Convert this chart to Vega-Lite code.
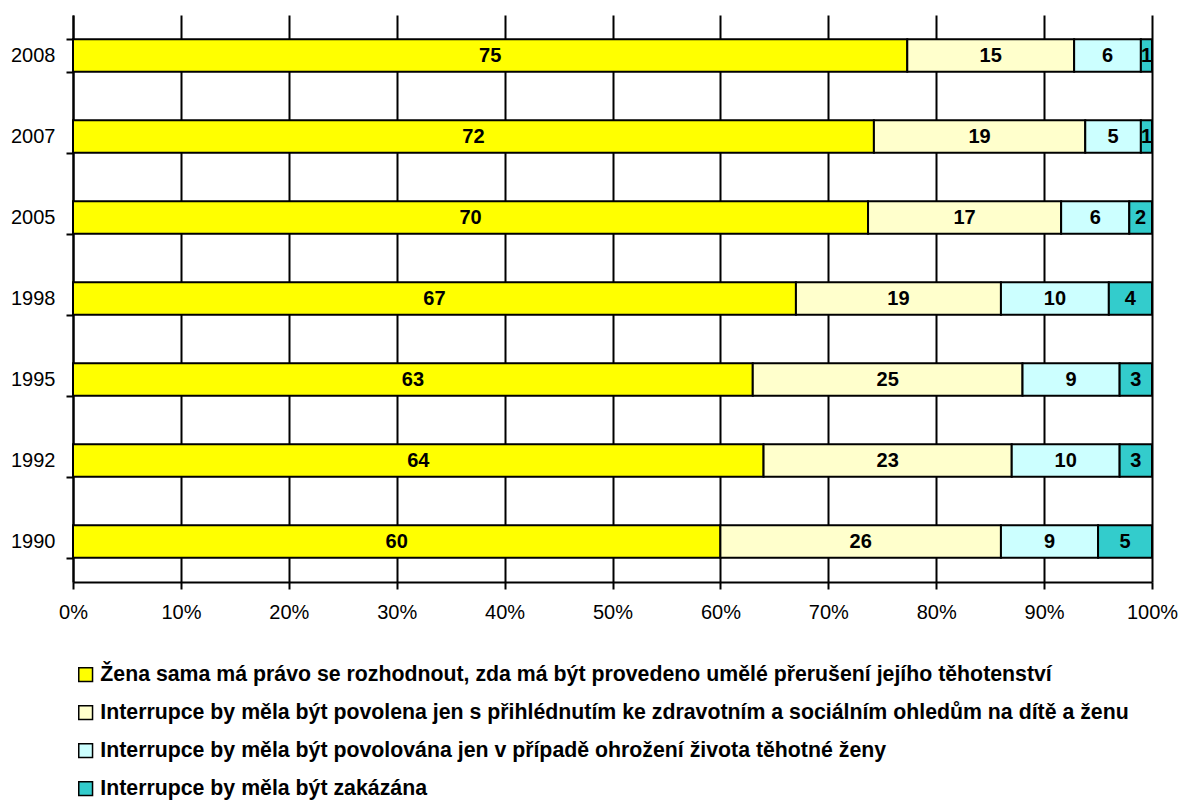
{
  "$schema": "https://vega.github.io/schema/vega-lite/v6.json",
  "autosize": {"type": "none"},
  "width": 1079,
  "height": 567,
  "padding": {"left": 73, "top": 15, "right": 30, "bottom": 219},
  "background": "white",
  "config": {
    "font": "Liberation Sans",
    "view": {"stroke": null}
  },
  "data": {
    "values": [
      {"year": "2008", "o": 1, "c": "Žena sama má právo se rozhodnout, zda má být provedeno umělé přerušení jejího těhotenství", "v": 75},
      {"year": "2008", "o": 2, "c": "Interrupce by měla být povolena jen s přihlédnutím ke zdravotním a sociálním ohledům na dítě a ženu", "v": 15},
      {"year": "2008", "o": 3, "c": "Interrupce by měla být povolována jen v případě ohrožení života těhotné ženy", "v": 6},
      {"year": "2008", "o": 4, "c": "Interrupce by měla být zakázána", "v": 1},
      {"year": "2007", "o": 1, "c": "Žena sama má právo se rozhodnout, zda má být provedeno umělé přerušení jejího těhotenství", "v": 72},
      {"year": "2007", "o": 2, "c": "Interrupce by měla být povolena jen s přihlédnutím ke zdravotním a sociálním ohledům na dítě a ženu", "v": 19},
      {"year": "2007", "o": 3, "c": "Interrupce by měla být povolována jen v případě ohrožení života těhotné ženy", "v": 5},
      {"year": "2007", "o": 4, "c": "Interrupce by měla být zakázána", "v": 1},
      {"year": "2005", "o": 1, "c": "Žena sama má právo se rozhodnout, zda má být provedeno umělé přerušení jejího těhotenství", "v": 70},
      {"year": "2005", "o": 2, "c": "Interrupce by měla být povolena jen s přihlédnutím ke zdravotním a sociálním ohledům na dítě a ženu", "v": 17},
      {"year": "2005", "o": 3, "c": "Interrupce by měla být povolována jen v případě ohrožení života těhotné ženy", "v": 6},
      {"year": "2005", "o": 4, "c": "Interrupce by měla být zakázána", "v": 2},
      {"year": "1998", "o": 1, "c": "Žena sama má právo se rozhodnout, zda má být provedeno umělé přerušení jejího těhotenství", "v": 67},
      {"year": "1998", "o": 2, "c": "Interrupce by měla být povolena jen s přihlédnutím ke zdravotním a sociálním ohledům na dítě a ženu", "v": 19},
      {"year": "1998", "o": 3, "c": "Interrupce by měla být povolována jen v případě ohrožení života těhotné ženy", "v": 10},
      {"year": "1998", "o": 4, "c": "Interrupce by měla být zakázána", "v": 4},
      {"year": "1995", "o": 1, "c": "Žena sama má právo se rozhodnout, zda má být provedeno umělé přerušení jejího těhotenství", "v": 63},
      {"year": "1995", "o": 2, "c": "Interrupce by měla být povolena jen s přihlédnutím ke zdravotním a sociálním ohledům na dítě a ženu", "v": 25},
      {"year": "1995", "o": 3, "c": "Interrupce by měla být povolována jen v případě ohrožení života těhotné ženy", "v": 9},
      {"year": "1995", "o": 4, "c": "Interrupce by měla být zakázána", "v": 3},
      {"year": "1992", "o": 1, "c": "Žena sama má právo se rozhodnout, zda má být provedeno umělé přerušení jejího těhotenství", "v": 64},
      {"year": "1992", "o": 2, "c": "Interrupce by měla být povolena jen s přihlédnutím ke zdravotním a sociálním ohledům na dítě a ženu", "v": 23},
      {"year": "1992", "o": 3, "c": "Interrupce by měla být povolována jen v případě ohrožení života těhotné ženy", "v": 10},
      {"year": "1992", "o": 4, "c": "Interrupce by měla být zakázána", "v": 3},
      {"year": "1990", "o": 1, "c": "Žena sama má právo se rozhodnout, zda má být provedeno umělé přerušení jejího těhotenství", "v": 60},
      {"year": "1990", "o": 2, "c": "Interrupce by měla být povolena jen s přihlédnutím ke zdravotním a sociálním ohledům na dítě a ženu", "v": 26},
      {"year": "1990", "o": 3, "c": "Interrupce by měla být povolována jen v případě ohrožení života těhotné ženy", "v": 9},
      {"year": "1990", "o": 4, "c": "Interrupce by měla být zakázána", "v": 5}
    ]
  },
  "transform": [
    {"stack": "v", "groupby": ["year"], "sort": [{"field": "o", "order": "ascending"}], "offset": "normalize", "as": ["v0", "v1"]},
    {"calculate": "(datum.v0 + datum.v1) / 2", "as": "mid"}
  ],
  "encoding": {
    "y": {
      "field": "year",
      "type": "ordinal",
      "sort": ["2008", "2007", "2005", "1998", "1995", "1992", "1990"],
      "scale": {"paddingInner": 0.6, "paddingOuter": 0.3},
      "axis": {
        "title": null,
        "tickBand": "extent",
        "domainColor": "black",
        "domainWidth": 2,
        "tickColor": "black",
        "tickWidth": 2,
        "tickSize": 7,
        "labelFontSize": 20,
        "labelColor": "black",
        "labelPadding": 11
      }
    }
  },
  "layer": [
    {
      "mark": {"type": "bar", "stroke": "black", "strokeWidth": 2},
      "encoding": {
        "x": {
          "field": "v0",
          "type": "quantitative",
          "scale": {"domain": [0, 1], "nice": false},
          "axis": {
            "title": null,
            "format": ".0%",
            "values": [0, 0.1, 0.2, 0.3, 0.4, 0.5, 0.6, 0.7, 0.8, 0.9, 1],
            "grid": true,
            "gridColor": "black",
            "gridWidth": 2,
            "gridOpacity": 1,
            "domainColor": "black",
            "domainWidth": 2,
            "tickColor": "black",
            "tickWidth": 2,
            "tickSize": 7,
            "labelFontSize": 20,
            "labelColor": "black",
            "labelPadding": 13,
            "labelFlush": false,
            "labelOverlap": false
          }
        },
        "x2": {"field": "v1"},
        "color": {
          "field": "c",
          "type": "nominal",
          "sort": {"field": "o"},
          "scale": {
            "domain": [
              "Žena sama má právo se rozhodnout, zda má být provedeno umělé přerušení jejího těhotenství",
              "Interrupce by měla být povolena jen s přihlédnutím ke zdravotním a sociálním ohledům na dítě a ženu",
              "Interrupce by měla být povolována jen v případě ohrožení života těhotné ženy",
              "Interrupce by měla být zakázána"
            ],
            "range": ["#FFFF00", "#FFFFCC", "#CCFFFF", "#33CCCC"]
          },
          "legend": {
            "title": null,
            "orient": "none",
            "legendX": 2,
            "legendY": 649,
            "direction": "vertical",
            "symbolType": "square",
            "symbolSize": 190,
            "symbolStrokeColor": "black",
            "symbolStrokeWidth": 1.5,
            "labelFontSize": 21.3,
            "labelFontWeight": "bold",
            "labelColor": "black",
            "labelLimit": 0,
            "labelOffset": 4,
            "rowPadding": 16
          }
        }
      }
    },
    {
      "mark": {"type": "text", "fontSize": 20, "fontWeight": "bold", "color": "black"},
      "encoding": {
        "x": {"field": "mid", "type": "quantitative"},
        "text": {"field": "v", "type": "quantitative"}
      }
    }
  ]
}
